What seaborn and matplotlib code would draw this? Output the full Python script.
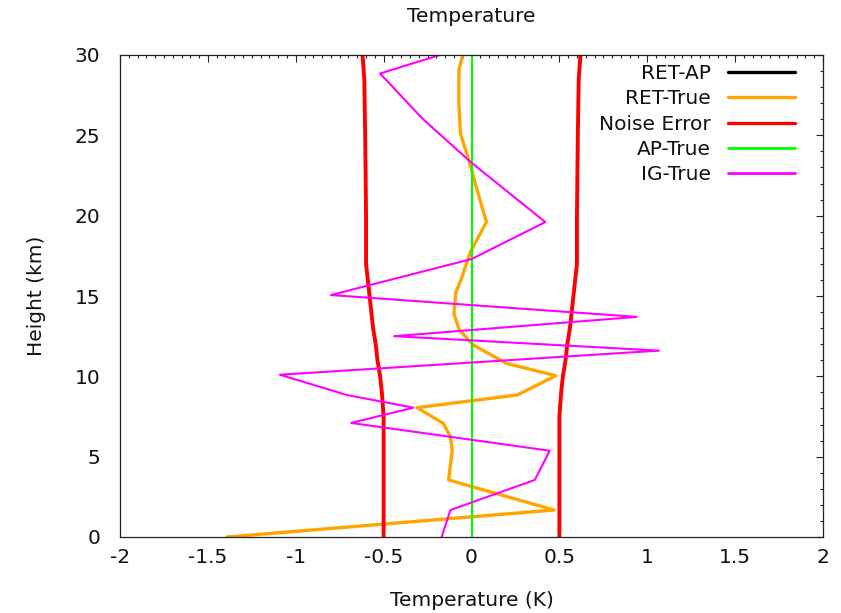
import matplotlib
matplotlib.use("Agg")
import matplotlib.pyplot as plt
import seaborn as sns
import numpy as np
from matplotlib.ticker import MultipleLocator

# ---- data ----
ret_true_h = [0, 1.68, 3.55, 5.4, 6.24, 7.07, 8.05, 8.84, 10.04, 10.8, 11.95, 12.9,
              13.9, 15.2, 16.0, 17.75, 19.6, 21.6, 23.46, 25.1, 27.0, 29.06, 30]
ret_true_v = [-1.39, 0.47, -0.13, -0.11, -0.12, -0.16, -0.31, 0.26, 0.48, 0.20, 0.01, -0.07,
              -0.10, -0.09, -0.06, -0.006, 0.085, 0.032, -0.015, -0.063, -0.072, -0.072, -0.05]

noise_h = [0, 7.5, 9, 10, 11, 12, 13, 14, 15, 16, 17, 20, 25, 28.5, 30]
noise_v = [0.5, 0.5, 0.51, 0.52, 0.535, 0.545, 0.56, 0.57, 0.58, 0.59, 0.60, 0.60, 0.605, 0.61, 0.62]

ap_true_h = [0, 30]
ap_true_v = [0, 0]

ig_true_h = [0, 1.68, 3.55, 5.37, 7.1, 8.05, 8.84, 10.1, 11.6, 12.5, 13.7, 15.06,
             17.3, 19.6, 23.35, 26.05, 28.85, 30]
ig_true_v = [-0.17, -0.12, 0.36, 0.445, -0.685, -0.33, -0.71, -1.09, 1.066, -0.44, 0.94, -0.80,
             0.0, 0.42, -0.006, -0.28, -0.52, -0.18]

ret_ap_h = []
ret_ap_v = []

labels = ["RET-AP", "RET-True", "Noise Error", "AP-True", "IG-True"]
xticks = [-2, -1.5, -1, -0.5, 0, 0.5, 1, 1.5, 2]
yticks = [0, 5, 10, 15, 20, 25, 30]

# ---- style ----
sns.set_style("white")
FS = 14.5
plt.rcParams['font.family'] = ['DejaVu Sans']
plt.rcParams['font.size'] = FS

fig = plt.figure(figsize=(8.41, 6.13), dpi=100)
ax = fig.add_axes([120/841, 1-537/613, (823-120)/841, (537-55)/613])

lw_thick = 2.4
lw_thin = 1.5

ax.plot(ret_ap_v, ret_ap_h, color="black", lw=lw_thick, label=labels[0])
sns.lineplot(x=ret_true_v, y=ret_true_h, sort=False, estimator=None, ax=ax,
             color="#FFA500", lw=lw_thick, label=labels[1])
sns.lineplot(x=noise_v, y=noise_h, sort=False, estimator=None, ax=ax,
             color="#FF0000", lw=lw_thick + 0.4, label=labels[2])
sns.lineplot(x=[-v for v in noise_v], y=noise_h, sort=False, estimator=None, ax=ax,
             color="#FF0000", lw=lw_thick + 0.4)
sns.lineplot(x=ap_true_v, y=ap_true_h, sort=False, estimator=None, ax=ax,
             color="#00FF00", lw=lw_thin, label=labels[3])
sns.lineplot(x=ig_true_v, y=ig_true_h, sort=False, estimator=None, ax=ax,
             color="#FF00FF", lw=lw_thin, label=labels[4])

ax.set_xlim(-2, 2)
ax.set_ylim(0, 30)
ax.set_xticks(xticks)
ax.set_xticklabels([f"{t:g}" for t in xticks])
ax.set_yticks(yticks)
ax.xaxis.set_minor_locator(MultipleLocator(0.05))
ax.yaxis.set_minor_locator(MultipleLocator(1))

ax.tick_params(which="both", direction="in", top=True, right=True, color="#222222", width=0.8)
ax.tick_params(which="major", length=5, labelsize=FS, labelcolor="#111111")
ax.tick_params(which="minor", length=2.5)
ax.tick_params(axis="y", which="major", pad=14)
ax.tick_params(axis="x", which="major", pad=8)
for s in ax.spines.values():
    s.set_color("#222222")
    s.set_linewidth(0.9)

ax.set_title("Temperature", fontsize=FS, pad=24, color="#111111")
ax.set_xlabel("Temperature (K)", fontsize=FS, labelpad=17, color="#111111")
ax.set_ylabel("Height (km)", fontsize=FS, labelpad=21, color="#111111")

handles, labs = ax.get_legend_handles_labels()
leg = ax.legend(handles, labs, loc="upper right", bbox_to_anchor=(0.9602, 0.982),
                frameon=False, markerfirst=False, handlelength=3.33, handletextpad=0.85,
                labelspacing=0.32, borderpad=0, borderaxespad=0, fontsize=FS)
for t in leg.get_texts():
    t.set_color("#111111")
for h in leg.legend_handles:
    h.set_linewidth(lw_thick if h.get_color() not in ("#00FF00", "#FF00FF") else 2.0)

fig.savefig("out.png", dpi=100)
